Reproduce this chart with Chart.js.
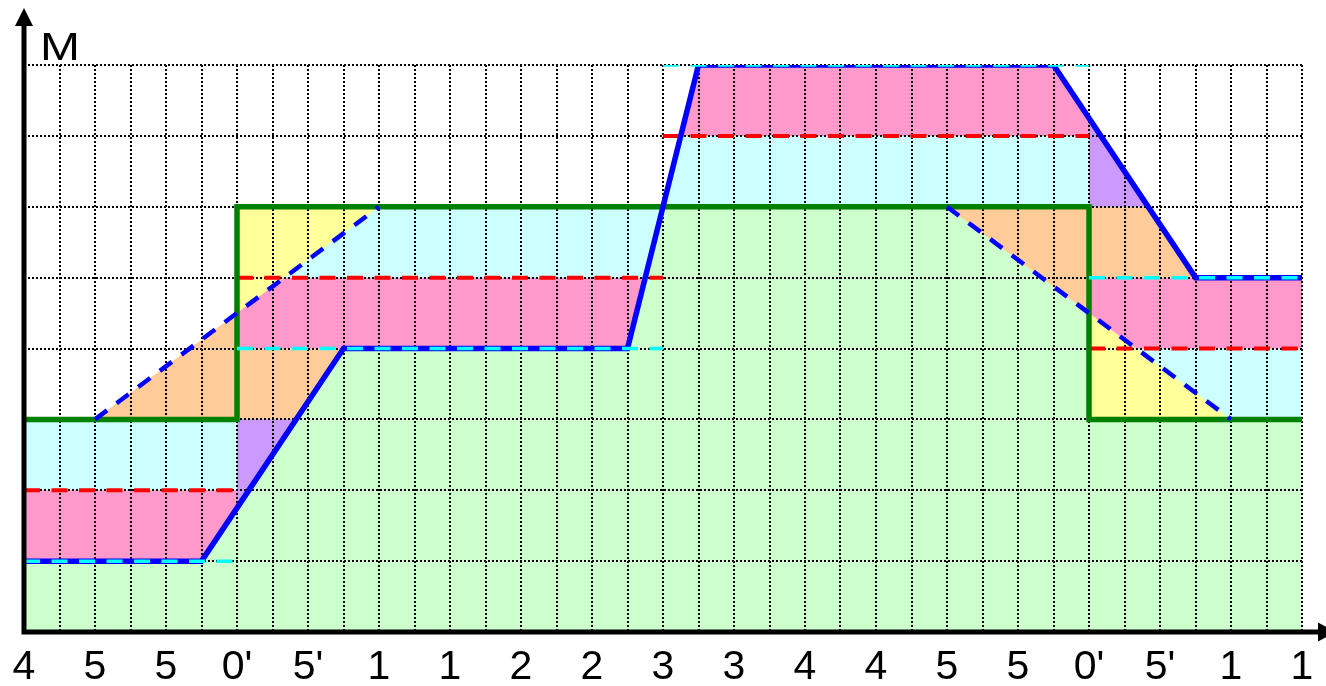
<!DOCTYPE html>
<html>
<head>
<meta charset="utf-8">
<script src="https://cdn.jsdelivr.net/npm/chart.js@4.4.0/dist/chart.umd.min.js"></script>
<style>
  html, body { margin: 0; padding: 0; background: #fff; }
  #wrap { position: relative; width: 1326px; height: 686px; }
  #label-m {
    position: absolute; left: 40px; top: 27px;
    font: 39px/39px "Liberation Sans", Arial, sans-serif; color: #000;
    transform: scaleX(1.23); transform-origin: left top;
  }
</style>
</head>
<body>
<div id="wrap">
  <canvas id="chart"></canvas>
  <div id="label-m">M</div>
</div>
<script>
// step levels, one value for each interval between stepEdges
const stepEdges = [0, 6, 18, 30, 36];
const greenLevels = [3, 6, 6, 3];
const redLevels = [2, 5, 7, 4];
const cyanLevels = [1, 4, 8, 5];

// solid blue line and dashed blue ramp
const blueX = [0, 5, 9, 17, 19, 29, 33, 36];
const blueY = [1, 1, 4, 4, 8, 8, 5, 5];
const rampX = [0, 2, 10, 26, 34, 36];
const rampY = [3, 3, 6, 6, 3, 3];

const xTickLabels = ['4', '5', '5', "0'", "5'", '1', '1', '2', '2', '3', '3', '4', '4', '5', '5', "0'", "5'", '1', '1'];

const colors = {
  green: '#ccffcc', cyan: '#ccffff', pink: '#ff99cc',
  orange: '#ffcc99', purple: '#cc99ff', yellow: '#ffff99'
};

function interp(xs, ys, x) {
  if (x <= xs[0]) return ys[0];
  for (let i = 1; i < xs.length; i++) {
    if (x <= xs[i]) {
      const t = (x - xs[i - 1]) / (xs[i] - xs[i - 1]);
      return ys[i - 1] + t * (ys[i] - ys[i - 1]);
    }
  }
  return ys[ys.length - 1];
}
const B = x => interp(blueX, blueY, x);
const D = x => interp(rampX, rampY, x);

function crossings(xs, ys, lvl) {
  const out = [];
  for (let i = 1; i < xs.length; i++) {
    const a = ys[i - 1] - lvl, b = ys[i] - lvl;
    if (a * b < 0) out.push(xs[i - 1] + a / (a - b) * (xs[i] - xs[i - 1]));
  }
  return out;
}

// every x where one of the curves bends or crosses something
const levels = [...new Set([...greenLevels, ...redLevels, ...cyanLevels])];
let cuts = [...blueX, ...rampX, ...stepEdges];
levels.forEach(l => cuts.push(...crossings(blueX, blueY, l), ...crossings(rampX, rampY, l)));
cuts = [...new Set(cuts)].sort((a, b) => a - b);
const bd = [];
for (let i = 1; i < cuts.length; i++) {
  const a = B(cuts[i - 1]) - D(cuts[i - 1]), b = B(cuts[i]) - D(cuts[i]);
  if (a * b < 0) bd.push(cuts[i - 1] + a / (a - b) * (cuts[i] - cuts[i - 1]));
}
cuts = [...new Set([...cuts, ...bd])].sort((a, b) => a - b);

// polygon of points between lo(x) and hi(x) on [x0, x1]
function area(x0, x1, lo, hi) {
  const xs = [x0, ...cuts.filter(x => x > x0 && x < x1), x1];
  const top = [], bottom = [];
  let empty = true;
  xs.forEach(x => {
    const l = lo(x), h = Math.max(hi(x), l);
    if (h - l > 1e-9) empty = false;
    top.push({x, y: h});
    bottom.unshift({x, y: l});
  });
  return empty ? null : top.concat(bottom);
}

// fills in paint order
const layers = {green: [], base: [], pink: [], over: [], purple: [], lead: [], lag: []};
for (let i = 0; i < greenLevels.length; i++) {
  const x0 = stepEdges[i], x1 = stepEdges[i + 1];
  const g = greenLevels[i], r = redLevels[i], c = cyanLevels[i];
  const gp = i > 0 ? greenLevels[i - 1] : c;
  const lo = x => Math.min(B(x), g), hi = x => Math.max(B(x), g);
  const up = c > g;
  layers.green.push(area(x0, x1, () => 0, lo));
  layers.base.push(area(x0, x1, lo, hi));
  layers.pink.push(area(x0, x1, x => Math.max(lo(x), Math.min(c, r)), x => Math.min(hi(x), Math.max(c, r))));
  if (up) {
    layers.over.push(area(x0, x1, x => Math.max(lo(x), c), hi));
    layers.purple.push(area(x0, x1, x => Math.max(lo(x), c, gp), hi));
  } else {
    layers.over.push(area(x0, x1, lo, x => Math.min(hi(x), c)));
    layers.purple.push(area(x0, x1, lo, x => Math.min(hi(x), c, gp)));
  }
}
for (let j = 1; j < rampX.length; j++) {
  if (rampY[j] === rampY[j - 1]) continue;
  const a = rampX[j - 1], b = rampX[j];
  const k = stepEdges.findIndex(x => x > a && x < b);
  const e = stepEdges[k], gb = greenLevels[k - 1], ga = greenLevels[k];
  layers.lead.push(area(a, e, x => Math.min(D(x), gb), x => Math.max(D(x), gb)));
  layers.lag.push(area(e, b, x => Math.min(D(x), ga), x => Math.max(D(x), ga)));
}
const layerColor = {green: colors.green, base: colors.cyan, pink: colors.pink, over: colors.orange,
  purple: colors.purple, lead: colors.orange, lag: colors.yellow};

function stepLine(lv, joined) {
  const pts = [];
  lv.forEach((v, i) => {
    if (!joined && i > 0) pts.push({x: stepEdges[i], y: null});
    pts.push({x: stepEdges[i], y: v}, {x: stepEdges[i + 1], y: v});
  });
  return pts;
}

const painted = [];
Object.keys(layers).forEach(key => {
  layers[key].filter(p => p).forEach(pts => painted.push({
    data: pts, fill: 'shape', backgroundColor: layerColor[key], borderWidth: 0
  }));
});
painted.push(
  {data: stepLine(redLevels, false), borderColor: '#ff0000', borderWidth: 4, borderDash: [16, 11.5]},
  {data: stepLine(greenLevels, true), borderColor: '#008000', borderWidth: 5.5},
  {data: rampX.map((x, i) => ({x, y: rampY[i]})), borderColor: '#0000ff', borderWidth: 4.5, borderDash: [15, 12],
    segment: {borderColor: s => (s.p0.parsed.y === s.p1.parsed.y ? 'rgba(0,0,0,0)' : undefined)}},
  {data: blueX.map((x, i) => ({x, y: blueY[i]})), borderColor: '#0000ff', borderWidth: 5.5},
  {data: stepLine(cyanLevels, false), borderColor: '#00ffff', borderWidth: 3.5, borderDash: [16, 11.5]}
);
const datasets = painted.map((d, i) => Object.assign({
  pointRadius: 0, fill: false, spanGaps: false, tension: 0, order: painted.length - i
}, d));

const axisArrows = {
  id: 'axisArrows',
  afterDraw(chart) {
    const {ctx, chartArea: a} = chart;
    ctx.save();
    ctx.strokeStyle = '#000';
    ctx.fillStyle = '#000';
    ctx.lineWidth = 5;
    ctx.beginPath();
    ctx.moveTo(a.left, a.bottom + 2.5);
    ctx.lineTo(a.left, 24);
    ctx.moveTo(a.left - 2.5, a.bottom);
    ctx.lineTo(chart.width - 8, a.bottom);
    ctx.stroke();
    ctx.beginPath();
    ctx.moveTo(a.left, 8);
    ctx.lineTo(a.left - 9, 26);
    ctx.lineTo(a.left + 9, 26);
    ctx.closePath();
    ctx.fill();
    ctx.beginPath();
    ctx.moveTo(chart.width + 10, a.bottom);
    ctx.lineTo(chart.width - 8, a.bottom - 9.5);
    ctx.lineTo(chart.width - 8, a.bottom + 9.5);
    ctx.closePath();
    ctx.fill();
    ctx.restore();
  }
};

const gridStyle = {color: '#000', lineWidth: 2, drawTicks: false};
new Chart(document.getElementById('chart'), {
  type: 'line',
  data: {datasets},
  options: {
    responsive: true,
    maintainAspectRatio: false,
    animation: false,
    events: [],
    layout: {padding: {top: 65, right: 24, left: 0, bottom: 0}},
    plugins: {
      legend: {display: false},
      tooltip: {enabled: false},
      filler: {drawTime: 'beforeDraw'}
    },
    scales: {
      x: {
        type: 'linear', min: 0, max: 36,
        grid: gridStyle,
        border: {display: false, dash: [2, 2]},
        ticks: {
          stepSize: 1, autoSkip: false, maxRotation: 0, minRotation: 0, padding: 11,
          color: '#000', font: {family: '"Liberation Sans", Arial, sans-serif', size: 41},
          callback: v => (v % 2 === 0 ? xTickLabels[v / 2] : '')
        },
        afterFit: s => { s.height = 54; }
      },
      y: {
        type: 'linear', min: 0, max: 8,
        grid: gridStyle,
        border: {display: false, dash: [2, 2]},
        ticks: {stepSize: 1, display: false},
        afterFit: s => { s.width = 24; }
      }
    }
  },
  plugins: [axisArrows]
});
</script>
</body>
</html>
